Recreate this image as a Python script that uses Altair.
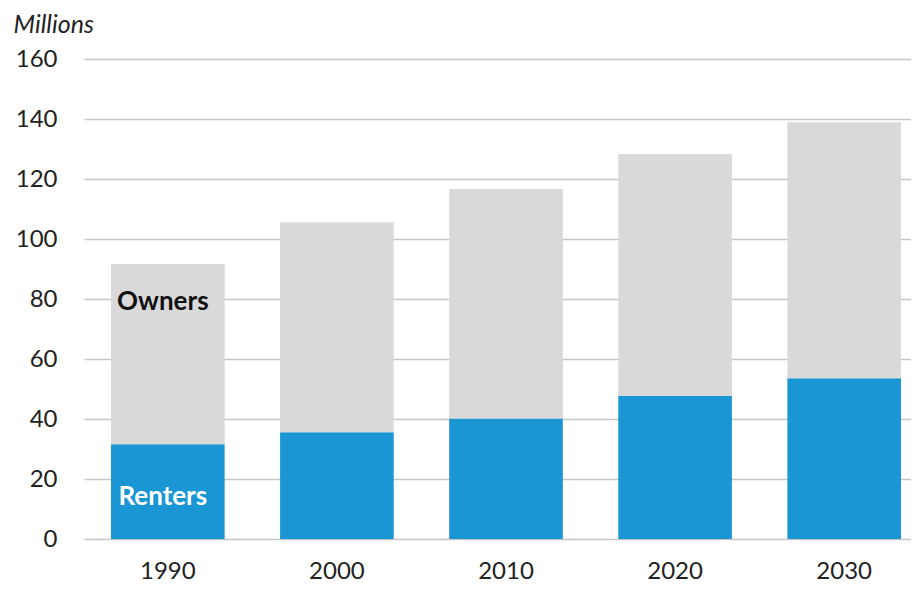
import altair as alt
import pandas as pd

years = ["1990", "2000", "2010", "2020", "2030"]
renters = [31.6, 35.6, 40.2, 47.7, 53.6]
owners = [60.1, 70.0, 76.5, 80.6, 85.3]
series = ["Renters", "Owners"]
colors = ["#1a96d4", "#d9d9d9"]
y_ticks = [0, 20, 40, 60, 80, 100, 120, 140, 160]

rows = []
for i, yr in enumerate(years):
    rows.append({"year": yr, "tenure": "Renters", "value": renters[i], "ord": 0})
    rows.append({"year": yr, "tenure": "Owners", "value": owners[i], "ord": 1})
df = pd.DataFrame(rows)

lab_df = pd.DataFrame({
    "year": ["1990", "1990"],
    "label": ["Owners", "Renters"],
    "pos": [79, 14],
    "col": ["#111111", "#ffffff"],
})

x_enc = alt.X("year:N", sort=years,
              scale=alt.Scale(paddingInner=0.328, paddingOuter=0.1094, align=0.73),
              axis=alt.Axis(title=None, labelAngle=0, ticks=False, domain=False,
                            labelFont="Lato", labelFontSize=24, labelColor="#222222",
                            labelPadding=20, grid=False))

bars = alt.Chart(df).mark_bar().encode(
    x=x_enc,
    y=alt.Y("value:Q", stack="zero",
            scale=alt.Scale(domain=[0, 160]),
            axis=alt.Axis(values=y_ticks, title="Millions", titleAngle=0,
                          titleX=-71, titleY=-27, titleAlign="left",
                          titleBaseline="alphabetic", titleFont="Lato",
                          titleFontStyle="italic", titleFontWeight="normal",
                          titleFontSize=25, titleColor="#222222",
                          labelFont="Lato", labelFontSize=24, labelColor="#222222",
                          labelPadding=27, ticks=False, domain=False,
                          gridColor="#c6c6c6", gridWidth=1.5)),
    color=alt.Color("tenure:N", scale=alt.Scale(domain=series, range=colors), legend=None),
    order=alt.Order("ord:Q"),
)

labels = alt.Chart(lab_df).mark_text(font="Lato", fontWeight="bold", fontSize=26,
                                     align="center", baseline="middle", dx=-5).encode(
    x=alt.X("year:N", sort=years),
    y=alt.Y("pos:Q"),
    text="label:N",
    color=alt.Color("col:N", scale=None),
)

chart = alt.layer(bars, labels).properties(
    width=827, height=480,
    autosize=alt.AutoSizeParams(type="none"),
    padding={"left": 76, "top": 51, "right": 0, "bottom": 44},
).configure_view(stroke=None)

chart.save("out.html", embed_options={"renderer": "svg", "actions": False})
